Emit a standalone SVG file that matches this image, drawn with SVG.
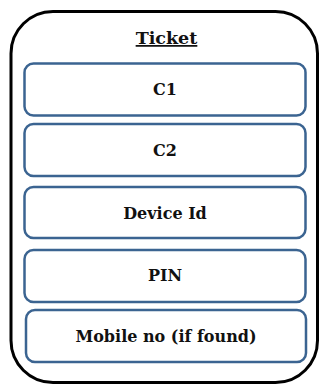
<svg xmlns="http://www.w3.org/2000/svg" width="320" height="385" viewBox="0 0 320 385">
  <style>
    .outer { fill: #ffffff; stroke: #000000; stroke-width: 3; }
    .field { fill: #ffffff; stroke: #3b6491; stroke-width: 2.5; }
    .label { font-family: "DejaVu Serif", "Liberation Serif", serif; font-weight: bold; font-size: 16px; fill: #111111; text-anchor: middle; }
    .title { font-family: "DejaVu Serif", "Liberation Serif", serif; font-weight: bold; font-size: 17.5px; fill: #111111; text-anchor: middle; text-decoration: underline; }
  </style>
  <rect width="320" height="385" fill="#ffffff"/>
  <g id="ticket">
    <rect class="outer" x="11" y="11.5" width="306.5" height="371" rx="42" ry="42"/>
    <text class="title" x="166.5" y="44">Ticket</text>
  </g>
  <g id="connectors"></g>
  <g id="c1">
    <rect class="field" x="24.5" y="63.5" width="281" height="52" rx="9" ry="9"/>
    <text class="label" x="165" y="94.5">C1</text>
  </g>
  <g id="c2">
    <rect class="field" x="24.5" y="124" width="281" height="52" rx="9" ry="9"/>
    <text class="label" x="165" y="155.5">C2</text>
  </g>
  <g id="device-id">
    <rect class="field" x="24.5" y="187" width="281" height="51" rx="9" ry="9"/>
    <text class="label" x="165" y="218.5">Device Id</text>
  </g>
  <g id="pin">
    <rect class="field" x="24.5" y="250" width="281" height="52" rx="9" ry="9"/>
    <text class="label" x="165" y="280.5">PIN</text>
  </g>
  <g id="mobile-no">
    <rect class="field" x="26" y="310" width="280" height="52" rx="9" ry="9"/>
    <text class="label" x="166" y="341.5">Mobile no (if found)</text>
  </g>
</svg>
